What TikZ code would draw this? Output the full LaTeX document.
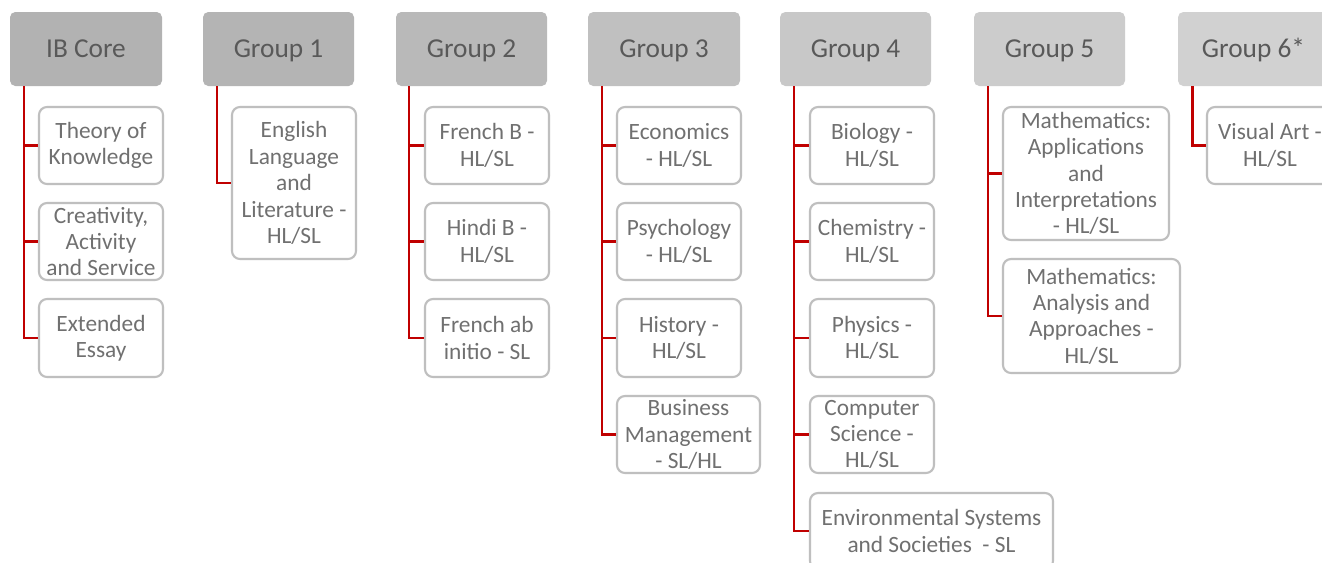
\documentclass[tikz,border=0pt]{standalone}
\usepackage{fontspec}
\setmainfont{Carlito}
\definecolor{hdrtext}{HTML}{595959}
\definecolor{itemtext}{HTML}{707070}
\definecolor{itemborder}{HTML}{BFBFBF}
\definecolor{connred}{HTML}{C00000}
\definecolor{hA}{HTML}{B2B2B2}
\definecolor{hB}{HTML}{B4B4B4}
\definecolor{hC}{HTML}{B9B9B9}
\definecolor{hD}{HTML}{C0C0C0}
\definecolor{hE}{HTML}{C8C8C8}
\definecolor{hF}{HTML}{CCCCCC}
\definecolor{hG}{HTML}{D1D1D1}
\newcommand\itembox[6]{%
  \node[item, minimum width={(#4-#2)*0.75pt}, minimum height={(#5-#3)*0.75pt},
        label={[itemlbl]center:{#6}}] (#1) at ({(#2+#4)/2},{(#3+#5)/2}) {};}
\newcommand\hdrbox[5]{%
  \node[hdr, fill=#4, minimum width={(#3-#2)*0.75pt}] (#1) at ({(#2+#3)/2},49) {#5};}
\begin{document}
\begin{tikzpicture}[x=0.75pt,y=-0.75pt,
  hdr/.style={rounded corners=4pt, inner sep=0pt, text=hdrtext,
    font=\fontsize{20.5}{23}\selectfont, minimum height=55.5pt,
    text height=13.2pt, text depth=0pt},
  item/.style={draw=itemborder, line width=1.6pt, fill=white, rounded corners=6pt, inner sep=0pt},
  itemlbl/.style={text=itemtext, align=center, inner sep=0pt,
    font=\fontsize{17.5}{19.8}\selectfont},
  conn/.style={draw=connred, line width=2.1pt}]
\clip (0,0) rectangle (1322,562);
\fill[white] (0,0) rectangle (1322,562);

% headers
\hdrbox{hIB}{10}{162}{hA}{IB Core}
\hdrbox{hG1}{203}{354}{hB}{Group 1}
\hdrbox{hG2}{396}{547}{hC}{Group 2}
\hdrbox{hG3}{588}{740}{hD}{Group 3}
\hdrbox{hG4}{780}{931}{hE}{Group 4}
\hdrbox{hG5}{974}{1125}{hF}{Group 5}
\hdrbox{hG6}{1178}{1329}{hG}{Group 6*}

% IB Core
\itembox{tok}{39}{107}{163}{184}{Theory of\\Knowledge}
\itembox{cas}{39}{203}{163}{280}{Creativity,\\Activity\\and Service}
\itembox{ee}{39}{299}{163}{377}{Extended\\Essay}
% Group 1
\itembox{eng}{232}{107}{356}{259}{English\\Language\\and\\Literature -\\HL/SL}
% Group 2
\itembox{frb}{425}{107}{549}{184}{French B -\\HL/SL}
\itembox{hib}{425}{203}{549}{280}{Hindi B -\\HL/SL}
\itembox{fra}{425}{299}{549}{377}{French ab\\initio - SL}
% Group 3
\itembox{eco}{617}{107}{741}{184}{Economics\\- HL/SL}
\itembox{psy}{617}{203}{741}{280}{Psychology\\- HL/SL}
\itembox{his}{617}{299}{741}{377}{History -\\HL/SL}
\itembox{bus}{617}{396}{760}{473}{Business\\Management\\- SL/HL}
% Group 4
\itembox{bio}{810}{107}{934}{184}{Biology -\\HL/SL}
\itembox{che}{810}{203}{934}{280}{Chemistry -\\HL/SL}
\itembox{phy}{810}{299}{934}{377}{Physics -\\HL/SL}
\itembox{cs}{810}{396}{934}{473}{Computer\\Science -\\HL/SL}
\itembox{ess}{810}{493}{1053}{569}{Environmental Systems\\and Societies\ \ - SL}
% Group 5
\itembox{mai}{1003}{107}{1169}{240}{Mathematics:\\Applications\\and\\Interpretations\\- HL/SL}
\itembox{maa}{1003}{259}{1180}{373}{Mathematics:\\Analysis and\\Approaches -\\HL/SL}
% Group 6
\itembox{vis}{1207}{107}{1333}{184}{Visual Art -\\HL/SL}

% trunks
\coordinate (tIB) at (24,86);
\coordinate (tG1) at (217,86);
\coordinate (tG2) at (409,86);
\coordinate (tG3) at (602,86);
\coordinate (tG4) at (794,86);
\coordinate (tG5) at (988,86);
\coordinate (tG6) at (1192.5,86);

\foreach \c in {tok,cas,ee} \draw[conn] (tIB) |- (\c.west);
\draw[conn] (tG1) |- (eng.west);
\foreach \c in {frb,hib,fra} \draw[conn] (tG2) |- (\c.west);
\foreach \c in {eco,psy,his,bus} \draw[conn] (tG3) |- (\c.west);
\foreach \c in {bio,che,phy,cs,ess} \draw[conn] (tG4) |- (\c.west);
\foreach \c in {mai,maa} \draw[conn] (tG5) |- (\c.west);
\draw[conn] (tG6) |- (vis.west);
\end{tikzpicture}
\end{document}
